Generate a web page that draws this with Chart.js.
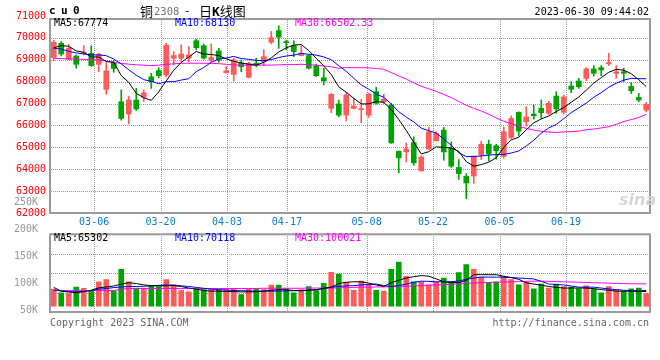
<!DOCTYPE html>
<html><head><meta charset="utf-8">
<script src="https://cdn.jsdelivr.net/npm/chart.js@4.4.1/dist/chart.umd.min.js"></script>
<style>
html,body{margin:0;padding:0;background:#fff;}
body{width:660px;height:360px;overflow:hidden;position:relative;font-family:'DejaVu Sans Mono',monospace;}
.cv{position:absolute;left:0;display:block;}
.t{position:absolute;white-space:nowrap;font-size:10px;line-height:10px;font-family:'DejaVu Sans Mono',monospace;}
</style></head><body>
<canvas id="c1" class="cv" width="660" height="235" style="top:0;width:660px;height:235px"></canvas>
<canvas id="c2" class="cv" width="660" height="132" style="top:190px;width:660px;height:132px"></canvas>

<div class="t" style="left:49px;top:6px;font-size:11px;font-weight:bold;letter-spacing:5.4px;color:#000">cu0</div>
<div class="t" style="left:140px;top:4px;font-size:13px;line-height:14px;font-family:'Noto Sans CJK SC';color:#000">铜</div>
<div class="t" style="left:154px;top:6px;font-size:10.5px;color:#777">2308</div>
<div class="t" style="left:184px;top:6px;font-size:11px;color:#000">-</div>
<div class="t" style="left:199px;top:4px;font-size:13px;line-height:14px;font-family:'Noto Sans CJK SC';color:#000">日<b style="font-family:'DejaVu Sans Mono'">K</b>线图</div>
<div class="t" style="right:11px;top:6.5px;color:#000">2023-06-30 09:44:02</div>

<div class="t" style="left:54px;top:18px;color:#000">MA5:67774</div>
<div class="t" style="left:175px;top:18px;color:#0000ff">MA10:68130</div>
<div class="t" style="left:295px;top:18px;color:#ff00ff">MA30:66502.33</div>

<div class="t" style="left:54px;top:233px;color:#000">MA5:65302</div>
<div class="t" style="left:175px;top:233px;color:#0000ff">MA10:70118</div>
<div class="t" style="left:295px;top:233px;color:#ff00ff">MA30:100021</div>

<div class="t" style="left:619px;top:192px;font-size:16px;line-height:16px;font-family:'DejaVu Sans';font-style:italic;font-weight:bold;color:#d6d6d6">sina</div>

<div class="t" style="left:50px;top:318px;color:#666">Copyright 2023 SINA.COM</div>
<div class="t" style="right:11px;top:318px;color:#666">http://finance.sina.com.cn</div>

<script>
// ---------- data ----------
const dates = ['03-03','03-06','03-07','03-08','03-09','03-10','03-13','03-14','03-15','03-16','03-17','03-20','03-21','03-22','03-23','03-24','03-27','03-28','03-29','03-30','03-31',
'04-03','04-04','04-06','04-07','04-10','04-11','04-12','04-13','04-14','04-17','04-18','04-19','04-20','04-21','04-24','04-25','04-26','04-27','04-28',
'05-04','05-05','05-08','05-09','05-10','05-11','05-12','05-15','05-16','05-17','05-18','05-19','05-22','05-23','05-24','05-25','05-26','05-29','05-30','05-31',
'06-01','06-02','06-05','06-06','06-07','06-08','06-09','06-12','06-13','06-14','06-15','06-16','06-19','06-20','06-21','06-26','06-27','06-28','06-29','06-30'];

const opens  = [69100,69750,69020,69170,69280,69290,68790,67650,68880,67080,66520,67160,67290,68220,68500,68300,69070,69070,69070,69870,69640,68990,69400,68410,68330,68850,68200,68840,68910,69800,70330,69830,69640,69190,69190,68730,68180,66780,66980,66470,66780,66720,66470,67540,67080,66930,64820,64790,65220,63920,64920,65300,65790,64950,64080,63680,63690,64640,65140,65070,64590,65450,66600,66170,66520,66780,66550,67340,66600,67800,68030,68150,68580,68640,68810,68380,68450,67780,67280,66700];
const highs  = [69900,69830,69700,69220,69640,69640,69300,68870,68960,67620,67340,67690,67620,68380,68640,69750,69370,69680,69600,69940,69720,69720,69520,68680,69070,68990,68880,69070,69450,70290,70550,69900,69870,69640,69220,68800,68610,67470,67160,67500,67240,67190,67470,67740,67430,67010,64830,65200,65480,64610,65910,65710,65910,65250,64440,63800,64600,65280,65330,65140,65930,66440,66620,66850,66930,67160,67100,67540,67380,68000,68150,68640,68730,68730,69300,68730,68610,67950,67460,67050];
const lows   = [68950,69170,69000,68610,69220,68700,68450,67420,68420,66240,66060,66680,67080,67690,68180,68220,68760,68910,68910,69450,69030,68910,68880,68380,68030,68450,68170,68680,68730,69720,69520,69450,69140,69180,68580,68230,67850,66580,66390,66200,66750,66120,66360,66970,67000,65180,63830,64330,64180,63920,64910,65290,64410,64080,63530,62660,63350,64440,64380,64460,64510,65400,65520,65970,66290,66320,66500,66550,66520,67490,67690,68040,68260,68270,68730,68150,68000,67460,67080,66620];
const closes = [69800,69260,69520,68790,69330,68730,69250,68490,68600,66320,67160,66750,67490,68000,68270,69670,69190,69260,69220,69550,69070,69100,68990,68490,68990,68680,68830,68760,69140,70010,70030,69780,69370,69300,68610,68270,68030,67420,66470,67390,66880,66750,67430,67010,67200,65200,64520,64920,64290,64560,65710,65630,64790,64140,63800,63370,64600,65140,64690,64840,65710,66320,65740,66390,66440,66580,67010,66750,67300,67650,67770,68580,68380,68530,68870,68450,68380,67580,67160,66970];

const ma5  = [69540,69650,69610,69400,69340,69126,69124,68918,68880,68278,67964,67464,67264,67144,67534,68036,68524,68878,69122,69378,69258,69240,69186,69040,68928,68850,68796,68750,68880,69084,69354,69544,69666,69698,69418,69066,68716,68326,67760,67516,67238,66982,66984,67092,67054,66718,66272,65770,65226,64698,64800,65022,64996,64966,64814,64346,64140,64210,64320,64528,64996,65340,65460,65800,66120,66294,66432,66634,66816,67058,67296,67610,67936,68182,68426,68562,68522,68362,68088,67774];
const ma10 = [69525,69490,69380,69310,69265,69220,69220,69185,69030,68809,68545,68294,68091,68012,67906,68000,67994,68071,68133,68456,68647,68882,69032,69081,69153,69054,69018,68968,68960,69006,69102,69170,69208,69289,69251,69210,69130,68996,68729,68467,68152,67849,67655,67426,67285,66978,66627,66377,66159,65876,65759,65647,65383,65096,64756,64573,64581,64603,64643,64671,64671,64740,64835,65060,65324,65645,65886,66047,66308,66589,66795,67021,67285,67499,67742,67929,68066,68149,68135,68130];
const ma30 = [69067,69050,69040,69030,69015,69000,68990,68945,68880,68830,68795,68770,68750,68730,68750,68790,68810,68835,68840,68840,68840,68835,68820,68790,68765,68750,68745,68750,68755,68757,68765,68782,68777,68794,68770,68755,68714,68678,68607,68643,68634,68634,68632,68599,68563,68414,68258,68114,67949,67783,67671,67555,67415,67270,67097,66920,66779,66659,66510,66338,66194,66079,65958,65861,65788,65732,65698,65676,65703,65712,65742,65803,65834,65885,65941,66049,66178,66266,66362,66502];

const volumes = [76000,60000,56000,85000,80000,67000,109000,119000,67000,165000,109000,81000,81000,91000,88000,119000,95000,71000,64000,77000,74000,74000,71000,74000,77000,52000,77000,77000,74000,94000,94000,77000,60000,74000,88000,70000,102000,151000,144000,106000,71000,112000,95000,71000,67000,165000,197000,134000,109000,109000,95000,109000,126000,109000,150000,186000,165000,130000,106000,109000,134000,119000,95000,109000,77000,99000,81000,99000,88000,85000,77000,91000,77000,60000,88000,74000,67000,77000,81000,56000];
const volMa5  = [84000,67000,63000,60000,65000,71000,82000,86000,90000,99000,105000,101000,95000,92000,91000,91000,92000,88000,81000,76000,70000,67000,67000,66000,65000,64000,64000,65000,67000,71000,74000,73000,70000,69000,71000,73000,80000,85000,101000,107000,109000,109000,103000,95000,88000,105000,116000,126000,132000,137000,134000,122000,109000,107000,105000,116000,141000,141000,141000,141000,134000,128000,120000,105000,99000,94000,88000,84000,81000,81000,81000,81000,78000,74000,71000,67000,67000,67000,66000,65302];
const volMa10 = [71000,68000,65000,64000,66000,70000,76000,79000,83000,86000,88000,88000,89000,91000,93000,95000,94000,91000,88000,84000,80000,76000,74000,72000,70000,69000,68000,67000,67000,67000,67000,68000,69000,70000,72000,74000,78000,85000,88000,91000,92000,95000,97000,99000,92000,88000,92000,99000,107000,112000,111000,109000,109000,109000,113000,120000,126000,130000,130000,130000,130000,128000,126000,124000,122000,111000,99000,97000,95000,90000,85000,85000,85000,81000,77000,74000,71000,70000,68000,70118];
const volMa30 = [70000,70000,70000,70000,70000,70000,70000,70000,70000,75000,79000,79000,79000,79000,79000,79000,79000,79000,79000,79000,79000,79000,79000,79000,79000,79000,79000,79000,80000,80000,80000,80000,80000,80000,81000,81000,81000,81000,82000,83000,84000,85000,85000,86000,86000,87000,88000,89000,90000,92000,94000,95000,96000,98000,100000,102000,104000,105000,106000,107000,108000,109000,110000,111000,112000,112000,111000,110000,109000,108000,107000,106000,105000,104000,103000,102000,101000,100000,100000,100021];

const priceTicks = [62000,63000,64000,65000,66000,67000,68000,69000,70000,71000];
const dateTicks = ['03-06','03-20','04-03','04-17','05-08','05-22','06-05','06-19'];
const volTicks = [50000,100000,150000,200000,250000];
const volTickLabels = ['50K','100K','150K','200K','250K'];

// ---------- styling ----------
const UP = '#ff5a5a', DOWN = '#00a400';
const GRID = '#999999';
const FONT = {family: "'DejaVu Sans Mono', monospace", size: 10};
const colors = closes.map((c, i) => c >= opens[i] ? UP : DOWN);
const dateIdx = dateTicks.map(d => dates.indexOf(d));

// frame around each plot area
const framePlugin = {
  id: 'frame',
  afterDatasetsDraw(chart) {
    const {ctx, chartArea: a} = chart;
    ctx.save();
    ctx.strokeStyle = '#9a9a9a';
    ctx.lineWidth = 2;
    ctx.setLineDash([]);
    ctx.strokeRect(a.left, a.top, a.right - a.left, a.bottom - a.top);
    ctx.restore();
  }
};
// dotted grid lines at the ticks of the given scales (1px on, 1px off)
function makeDotGrid(ids) {
  return {
    id: 'dotGrid',
    beforeDatasetsDraw(chart) {
      const ctx = chart.ctx, a = chart.chartArea;
      ctx.save();
      ctx.fillStyle = GRID;
      ids.forEach(id => {
        const s = chart.scales[id];
        if (!s) return;
        s.ticks.forEach(t => {
          const p = Math.round(s.getPixelForValue(t.value));
          if (s.isHorizontal()) {
            if (p <= a.left + 1 || p >= a.right - 1) return;
            for (let y = Math.ceil(a.top) + 1; y < a.bottom - 1; y += 2) ctx.fillRect(p, y, 1, 1);
          } else {
            if (p <= a.top + 1 || p >= a.bottom - 1) return;
            for (let x = Math.ceil(a.left) + 1; x < a.right - 1; x += 2) ctx.fillRect(x, p, 1, 1);
          }
        });
      });
      ctx.restore();
    }
  };
}

function lineDs(data, color) {
  return {type: 'line', data, borderColor: color, borderWidth: 1, pointRadius: 0, fill: false,
          tension: 0, xAxisID: 'x', yAxisID: 'y'};
}
function dateGridAxis(height, showLabels) {
  return {
    type: 'linear', position: 'bottom', min: 0, max: dates.length - 1,
    afterBuildTicks: s => { s.ticks = dateIdx.map(v => ({value: v})); },
    afterFit: s => { s.height = height; },
    ticks: {display: showLabels, callback: v => dates[v], color: '#0a7cc8', font: FONT,
            padding: 3, maxRotation: 0, autoSkip: false},
    grid: {display: false, drawTicks: false, tickLength: 0},
    border: {display: false}
  };
}

Chart.defaults.font.family = FONT.family;

new Chart(document.getElementById('c1'), {
  type: 'bar',
  data: {
    labels: dates,
    datasets: [
      lineDs(ma5, '#000000'),
      lineDs(ma10, '#0000ff'),
      lineDs(ma30, '#ff00ff'),
      {type: 'bar', data: opens.map((o, i) => [o, closes[i]]), backgroundColor: colors,
       barThickness: 5, minBarLength: 1, grouped: false, xAxisID: 'x', yAxisID: 'y'},
      {type: 'bar', data: lows.map((l, i) => [l, highs[i]]), backgroundColor: colors,
       barThickness: 1, minBarLength: 1, grouped: false, xAxisID: 'x', yAxisID: 'y'}
    ]
  },
  options: {
    responsive: false, animation: false, devicePixelRatio: 1,
    layout: {padding: {left: 0, right: 10, top: 19, bottom: 0}},
    plugins: {legend: {display: false}, tooltip: {enabled: false}},
    scales: {
      x: {type: 'category', display: false, offset: true},
      xg: dateGridAxis(22, true),
      y: {
        type: 'linear', position: 'left', min: 62000, max: 70860,
        afterBuildTicks: s => { s.ticks = priceTicks.map(v => ({value: v})); },
        afterFit: s => { s.width = 50; },
        ticks: {color: '#ff0000', font: FONT, padding: 4, autoSkip: false, callback: v => String(v)},
        grid: {display: false, drawTicks: false, tickLength: 0},
        border: {display: false}
      }
    }
  },
  plugins: [makeDotGrid(['xg', 'y']), framePlugin]
});

new Chart(document.getElementById('c2'), {
  type: 'bar',
  data: {
    labels: dates,
    datasets: [
      lineDs(volMa5, '#000000'),
      lineDs(volMa10, '#0000ff'),
      lineDs(volMa30, '#ff00ff'),
      {type: 'bar', data: volumes, backgroundColor: colors, barThickness: 5,
       grouped: false, xAxisID: 'x', yAxisID: 'y'}
    ]
  },
  options: {
    responsive: false, animation: false, devicePixelRatio: 1,
    layout: {padding: {left: 0, right: 10, top: 44.3, bottom: 4.7}},
    plugins: {legend: {display: false}, tooltip: {enabled: false}},
    scales: {
      x: {type: 'category', display: false, offset: true},
      xg: dateGridAxis(0, false),
      yl: {
        type: 'linear', position: 'left', min: 47760, max: 190860,
        afterBuildTicks: s => { s.ticks = volTicks.map(v => ({value: v})); },
        afterFit: s => { s.width = 50; },
        ticks: {color: '#999999', font: FONT, padding: 4, autoSkip: false,
                callback: v => volTickLabels[volTicks.indexOf(v)]},
        grid: {display: false},
        border: {display: false}
      },
      y: {
        type: 'linear', position: 'left', min: -26460, max: 322140,
        afterBuildTicks: s => { s.ticks = [0.25, 0.5, 0.75].map(f => ({value: s.min + (s.max - s.min) * f})); },
        afterFit: s => { s.width = 0; },
        ticks: {display: false},
        grid: {display: false},
        border: {display: false}
      }
    }
  },
  plugins: [makeDotGrid(['xg', 'y']), framePlugin]
});
</script>
</body></html>
